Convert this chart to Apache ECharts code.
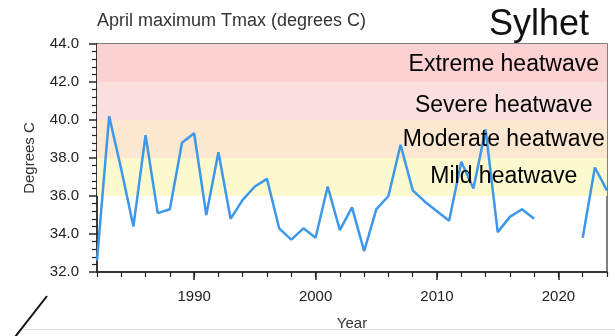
<!DOCTYPE html>
<html>
<head>
<meta charset="utf-8">
<script src="https://cdn.jsdelivr.net/npm/echarts@6/dist/echarts.min.js"></script>
<style>
  html, body { margin: 0; padding: 0; background: #fff; }
  #chart { width: 615px; height: 336px; }
</style>
</head>
<body>
<div id="chart"></div>
<script>
// April maximum Tmax at Sylhet, one value per year (null = missing year)
const years = [
  1982, 1983, 1984, 1985, 1986, 1987, 1988, 1989, 1990, 1991,
  1992, 1993, 1994, 1995, 1996, 1997, 1998, 1999, 2000, 2001,
  2002, 2003, 2004, 2005, 2006, 2007, 2008, 2009, 2010, 2011,
  2012, 2013, 2014, 2015, 2016, 2017, 2018, 2019, 2020, 2021,
  2022, 2023, 2024
];
const tmax = [
  32.6, 40.2, 37.4, 34.4, 39.2, 35.1, 35.3, 38.8, 39.3, 35.0,
  38.3, 34.8, 35.8, 36.5, 36.9, 34.3, 33.7, 34.3, 33.8, 36.5,
  34.2, 35.4, 33.1, 35.3, 36.0, 38.7, 36.3, 35.7, 35.2, 34.7,
  37.8, 36.4, 39.5, 34.1, 34.9, 35.3, 34.8, null, null, null,
  33.8, 37.5, 36.3
];

// Heatwave categories: [name, lower bound, upper bound]
const bandNames = ['Extreme heatwave', 'Severe heatwave', 'Moderate heatwave', 'Mild heatwave'];
const bandLow = [42, 40, 38, 36];
const bandHigh = [44, 42, 40, 38];
const bandColors = ['#fcd1d2', '#fbdfdf', '#fce8d0', '#fdf9cf'];
// where each category name sits inside its band
const bandLabelX = 2015.5;
const bandLabelY = [42.9, 40.75, 38.97, 37.03];

const majorYears = [1990, 2000, 2010, 2020];

const chart = echarts.init(document.getElementById('chart'), null, { renderer: 'canvas' });

const FONT = '"Liberation Sans", Arial, Helvetica, sans-serif';

chart.setOption({
  animation: false,
  backgroundColor: '#ffffff',
  textStyle: { fontFamily: FONT },
  grid: {
    left: 97, top: 44, right: 8, bottom: 63,
    show: true, borderColor: '#555', borderWidth: 1.5,
    backgroundColor: 'transparent'
  },
  title: [
    {
      text: 'April maximum Tmax (degrees C)',
      left: 92, top: 7,
      textStyle: { fontFamily: FONT, fontSize: 18, fontWeight: 'normal', color: '#333' }
    },
    {
      text: 'Sylhet',
      left: 484, top: 2,
      textStyle: { fontFamily: FONT, fontSize: 36, fontWeight: 'normal', color: '#111' }
    }
  ],
  xAxis: [
    {
      type: 'value', min: 1982, max: 2024, interval: 2,
      axisLine: { show: true, onZero: false, lineStyle: { color: '#222', width: 1.5 } },
      axisTick: { show: true, length: 5, lineStyle: { color: '#222', width: 1.2 } },
      axisLabel: { show: false },
      splitLine: { show: false }
    },
    {
      type: 'value', min: 1982, max: 2024, position: 'bottom',
      axisLine: { show: false },
      axisTick: { show: true, length: 8, customValues: majorYears, lineStyle: { color: '#222', width: 1.5 } },
      axisLabel: {
        show: true, customValues: majorYears, margin: 17,
        fontFamily: FONT, fontSize: 15, color: '#222',
        formatter: v => String(v)
      },
      splitLine: { show: false },
      name: 'Year', nameLocation: 'middle', nameGap: 44,
      nameTextStyle: { fontFamily: FONT, fontSize: 15, color: '#333' }
    }
  ],
  yAxis: {
    type: 'value', min: 32, max: 44, interval: 2,
    axisLine: { show: true, lineStyle: { color: '#222', width: 1.5 } },
    axisTick: { show: true, length: 8, lineStyle: { color: '#222', width: 1.5 } },
    minorTick: { show: true, splitNumber: 5, length: 5, lineStyle: { color: '#222', width: 1.2 } },
    axisLabel: {
      margin: 18, fontFamily: FONT, fontSize: 15, color: '#222',
      formatter: v => v.toFixed(1)
    },
    splitLine: { show: false },
    name: 'Degrees C', nameLocation: 'middle', nameGap: 60,
    nameTextStyle: { fontFamily: FONT, fontSize: 15, color: '#333' }
  },
  series: [
    {
      // coloured heatwave bands
      type: 'line', xAxisIndex: 0, data: [], silent: true,
      markArea: {
        silent: true,
        data: bandNames.map((n, i) => [
          { yAxis: bandLow[i], itemStyle: { color: bandColors[i] } },
          { yAxis: bandHigh[i] }
        ])
      },
      z: 1
    },
    {
      type: 'line', xAxisIndex: 0,
      data: years.map((y, i) => [y, tmax[i]]),
      connectNulls: false,
      showSymbol: false, symbol: 'none',
      lineStyle: { color: '#3d97ea', width: 2.5 },
      z: 3
    },
    {
      // category names written on the bands
      type: 'scatter', xAxisIndex: 0, symbolSize: 0, silent: true,
      itemStyle: { opacity: 1 },
      data: bandNames.map((n, i) => ({ name: n, value: [bandLabelX, bandLabelY[i]] })),
      label: {
        show: true, position: 'inside', formatter: p => p.name,
        fontFamily: FONT, fontSize: 23, color: '#000', opacity: 1
      },
      z: 4
    }
  ],
  graphic: [
    {
      type: 'line', shape: { x1: 47, y1: 296, x2: 15, y2: 337 },
      style: { stroke: '#111', lineWidth: 2 }
    },
    {
      type: 'line', shape: { x1: 22, y1: 329.5, x2: 615, y2: 329.5 },
      style: { stroke: '#dddddd', lineWidth: 1 }
    }
  ]
});
</script>
</body>
</html>
